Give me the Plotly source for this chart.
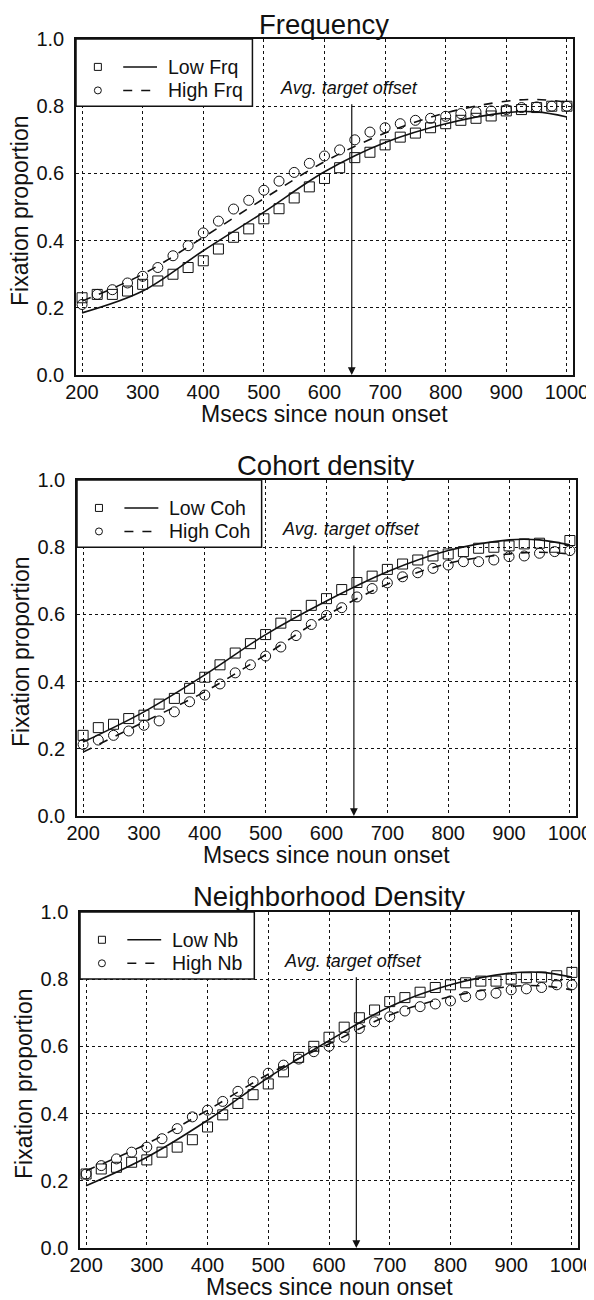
"""
Fixation proportion over time for three lexical factors
(frequency, cohort density, neighborhood density).
"""

import plotly.graph_objects as go

# ── Data ──────────────────────────────────────────────────────────────────────
TIME = [200, 225, 250, 275, 300, 325, 350, 375, 400, 425, 450, 475, 500,
        525, 550, 575, 600, 625, 650, 675, 700, 725, 750, 775, 800, 825,
        850, 875, 900, 925, 950, 975, 1000]
FIT_TIME = [200, 300, 400, 500, 600, 700, 800, 900, 950, 1000]

TITLES = ["Frequency", "Cohort density", "Neighborhood Density"]
LOW_NAMES = ["Low Frq", "Low Coh", "Low Nb"]
HIGH_NAMES = ["High Frq", "High Coh", "High Nb"]

# Frequency
FRQ_LOW = [0.23, 0.24, 0.24, 0.25, 0.27, 0.28, 0.30, 0.32, 0.34, 0.375, 0.41,
           0.435, 0.465, 0.495, 0.527, 0.56, 0.585, 0.617, 0.647, 0.663, 0.685,
           0.708, 0.72, 0.736, 0.748, 0.758, 0.764, 0.771, 0.786, 0.79, 0.796,
           0.80, 0.80]
FRQ_HIGH = [0.21, 0.24, 0.254, 0.274, 0.294, 0.32, 0.355, 0.385, 0.423, 0.458,
            0.494, 0.52, 0.55, 0.577, 0.603, 0.63, 0.652, 0.67, 0.70, 0.723,
            0.736, 0.748, 0.758, 0.764, 0.77, 0.778, 0.783, 0.786, 0.79, 0.796,
            0.798, 0.80, 0.80]
FRQ_LOW_FIT = [0.185, 0.25, 0.37, 0.485, 0.605, 0.692, 0.748, 0.781, 0.783, 0.768]
FRQ_HIGH_FIT = [0.22, 0.30, 0.41, 0.525, 0.635, 0.72, 0.78, 0.815, 0.82, 0.812]

# Cohort density
COH_LOW = [0.24, 0.263, 0.273, 0.29, 0.30, 0.333, 0.35, 0.38, 0.413, 0.45,
           0.485, 0.513, 0.54, 0.574, 0.597, 0.627, 0.647, 0.674, 0.695, 0.714,
           0.734, 0.75, 0.762, 0.774, 0.78, 0.787, 0.797, 0.80, 0.804, 0.81,
           0.812, 0.80, 0.82]
COH_HIGH = [0.213, 0.226, 0.24, 0.253, 0.27, 0.283, 0.31, 0.34, 0.36, 0.393,
            0.426, 0.45, 0.476, 0.503, 0.537, 0.57, 0.597, 0.62, 0.652, 0.677,
            0.694, 0.712, 0.724, 0.737, 0.747, 0.757, 0.757, 0.762, 0.772,
            0.774, 0.782, 0.787, 0.79]
COH_LOW_FIT = [0.22, 0.31, 0.42, 0.54, 0.64, 0.727, 0.79, 0.822, 0.822, 0.807]
COH_HIGH_FIT = [0.19, 0.28, 0.37, 0.48, 0.597, 0.69, 0.752, 0.78, 0.785, 0.78]

# Neighborhood density
NB_LOW = [0.22, 0.235, 0.24, 0.255, 0.262, 0.285, 0.30, 0.322, 0.36, 0.396,
          0.43, 0.456, 0.488, 0.524, 0.567, 0.60, 0.627, 0.657, 0.685, 0.708,
          0.733, 0.745, 0.761, 0.775, 0.783, 0.789, 0.794, 0.794, 0.80, 0.804,
          0.806, 0.81, 0.82]
NB_HIGH = [0.22, 0.245, 0.265, 0.285, 0.30, 0.325, 0.355, 0.39, 0.41, 0.436,
           0.466, 0.495, 0.52, 0.544, 0.562, 0.584, 0.60, 0.627, 0.653, 0.673,
           0.688, 0.705, 0.718, 0.726, 0.735, 0.748, 0.753, 0.758, 0.768,
           0.771, 0.775, 0.783, 0.783]
NB_LOW_FIT = [0.185, 0.27, 0.38, 0.507, 0.617, 0.718, 0.783, 0.818, 0.82, 0.806]
NB_HIGH_FIT = [0.23, 0.31, 0.41, 0.517, 0.607, 0.693, 0.748, 0.778, 0.78, 0.768]

AVG_OFFSET = 645   # ms, average target offset

PANELS = [
    (FRQ_LOW, FRQ_HIGH, FRQ_LOW_FIT, FRQ_HIGH_FIT),
    (COH_LOW, COH_HIGH, COH_LOW_FIT, COH_HIGH_FIT),
    (NB_LOW, NB_HIGH, NB_LOW_FIT, NB_HIGH_FIT),
]

# ── Style ─────────────────────────────────────────────────────────────────────
BLACK = "#111111"
FONT = "Liberation Sans, Arial, Helvetica, sans-serif"
X_DOMAINS = [[0.0, 0.99], [0.002, 0.996], [0.008, 1.0]]
Y_DOMAINS = [[0.7225, 1.0], [0.3584, 0.6358], [0.0017, 0.2792]]
LEGEND_W = [0.355, 0.37, 0.35]

fig = go.Figure()
shapes = []
annotations = []

for i, (low, high, low_fit, high_fit) in enumerate(PANELS):
    n = "" if i == 0 else str(i + 1)
    xa, ya = "x" + n, "y" + n

    fig.add_trace(go.Scatter(
        x=TIME, y=low, xaxis=xa, yaxis=ya, mode="markers",
        marker=dict(symbol="square-open", size=10, color=BLACK,
                    line=dict(width=1)),
        showlegend=False, hoverinfo="skip",
    ))
    fig.add_trace(go.Scatter(
        x=TIME, y=high, xaxis=xa, yaxis=ya, mode="markers",
        marker=dict(symbol="circle-open", size=10, color=BLACK,
                    line=dict(width=1)),
        showlegend=False, hoverinfo="skip",
    ))
    fig.add_trace(go.Scatter(
        x=FIT_TIME, y=low_fit, xaxis=xa, yaxis=ya, mode="lines",
        line=dict(color=BLACK, width=1.6, shape="spline"),
        showlegend=False, hoverinfo="skip",
    ))
    fig.add_trace(go.Scatter(
        x=FIT_TIME, y=high_fit, xaxis=xa, yaxis=ya, mode="lines",
        line=dict(color=BLACK, width=1.6, shape="spline", dash="dash"),
        showlegend=False, hoverinfo="skip",
    ))

    axis_common = dict(
        showline=True, linecolor=BLACK, linewidth=1.5, mirror=True,
        showgrid=True, gridcolor=BLACK, griddash="dot", gridwidth=1,
        zeroline=False, ticks="", automargin=False, ticklabeloverflow="allow",
        tickfont=dict(size=20, color=BLACK, family=FONT),
    )
    fig.update_layout(**{
        ("xaxis" + n): dict(
            axis_common, anchor=ya, domain=X_DOMAINS[i], range=[190, 1010],
            tick0=200, dtick=100, ticklabelstandoff=-2,
        ),
        ("yaxis" + n): dict(
            axis_common, anchor=xa, domain=Y_DOMAINS[i], range=[0, 1.0],
            tick0=0, dtick=0.2, tickformat=".1f", ticklabelstandoff=6,
        ),
    })

    xd, yd = xa + " domain", ya + " domain"

    # panel title
    annotations.append(dict(
        text=TITLES[i], xref=xd, yref=yd, x=0.5, y=1.0, xanchor="center",
        yanchor="middle", yshift=15, showarrow=False,
        font=dict(size=27.5, color=BLACK, family=FONT),
    ))
    # axis titles
    annotations.append(dict(
        text="Msecs since noun onset", xref=xd, yref=yd, x=0.5, y=0,
        xanchor="center", yanchor="middle", yshift=-39,
        showarrow=False, font=dict(size=23, color=BLACK, family=FONT),
    ))
    annotations.append(dict(
        text="Fixation proportion", xref=xd, yref=yd, x=0, y=0.5,
        xanchor="center", yanchor="middle", xshift=-56, yshift=-4,
        textangle=-90, showarrow=False,
        font=dict(size=23, color=BLACK, family=FONT),
    ))

    # average target offset arrow + label
    annotations.append(dict(
        x=AVG_OFFSET, y=0, ax=AVG_OFFSET, ay=0.81, xref=xa, yref=ya,
        axref=xa, ayref=ya, text="", showarrow=True, arrowhead=2,
        arrowsize=1.3, arrowwidth=1.2, arrowcolor=BLACK,
    ))
    annotations.append(dict(
        text="<i>Avg. target offset</i>", x=AVG_OFFSET - 5, y=0.855,
        xref=xa, yref=ya, showarrow=False, xanchor="center",
        font=dict(size=18, color=BLACK, family=FONT),
    ))

    # legend box
    shapes.append(dict(
        type="rect", xref=xd, yref=yd, x0=0, x1=LEGEND_W[i], y0=0.8, y1=1.0,
        line=dict(color=BLACK, width=1.5), fillcolor="white", layer="above",
    ))
    for row, (name, sym, dash) in enumerate(
            [(LOW_NAMES[i], "rect", "solid"), (HIGH_NAMES[i], "circle", "dash")]):
        yy = 0.917 - row * 0.07
        shapes.append(dict(
            type=sym, xref=xd, yref=yd, xsizemode="pixel", ysizemode="pixel",
            xanchor=0.044, yanchor=yy, x0=-3.5, x1=3.5, y0=-3.5, y1=3.5,
            line=dict(color=BLACK, width=1), layer="above",
        ))
        shapes.append(dict(
            type="line", xref=xd, yref=yd, x0=0.095, x1=0.163, y0=yy, y1=yy,
            line=dict(color=BLACK, width=1.5, dash=dash), layer="above",
        ))
        annotations.append(dict(
            text=name, xref=xd, yref=yd, x=0.181, y=yy, xanchor="left",
            yanchor="middle", showarrow=False,
            font=dict(size=19.5, color=BLACK, family=FONT),
        ))

# the page body adds an 8px offset, so the figure is 8px smaller each way
fig.update_layout(
    width=586, height=1292,
    margin=dict(l=68, r=16, t=31, b=50),
    paper_bgcolor="white", plot_bgcolor="white",
    font=dict(family=FONT, color=BLACK),
    shapes=shapes, annotations=annotations,
    showlegend=False,
)

fig.write_html("out.html")
